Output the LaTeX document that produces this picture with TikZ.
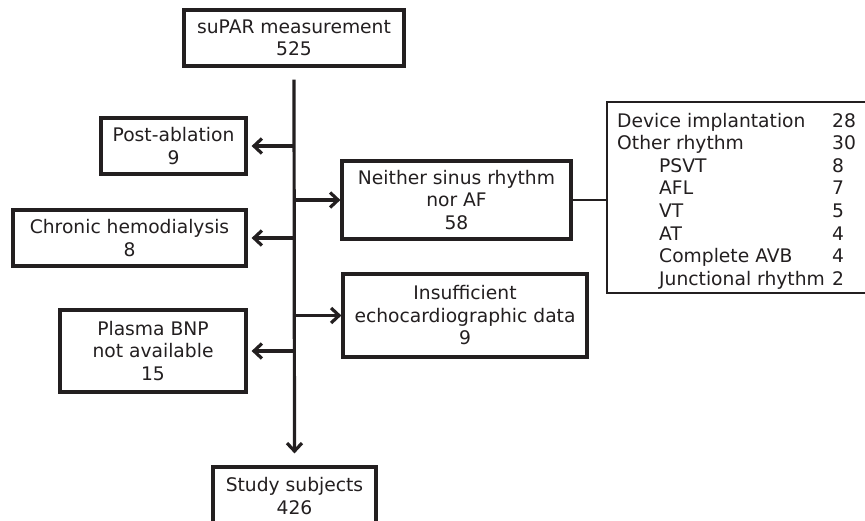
\documentclass[tikz,border=0pt]{standalone}
\usepackage{fontspec}
\setmainfont{DejaVu Sans}
\usetikzlibrary{arrows.meta}
\definecolor{ink}{HTML}{231F20}
\begin{document}
\begin{tikzpicture}[x=1pt,y=-1pt,
  box/.style={draw=ink,line width=3.2pt,text=ink,align=center,inner sep=0pt,
    font=\fontsize{18.7}{22.5}\selectfont},
  arr/.style={draw=ink,line width=3.2pt,-{Straight Barb[length=8pt,width=15pt]}},
  lbl/.style={anchor=base west,inner sep=0pt,text=ink,font=\fontsize{18.7}{22.5}\selectfont}]
\useasboundingbox (0,0) rectangle (865,520);
\fill[white] (0,0) rectangle (865,520);
% boxes
\node[box,minimum width=220pt,minimum height=56pt] (supar) at (294,38) {suPAR measurement\\525};
\node[box,minimum width=145pt,minimum height=56pt] (post) at (173.5,146) {Post-ablation\\9};
\node[box,minimum width=229pt,minimum height=78pt] (neither) at (456.5,200) {Neither sinus rhythm\\nor AF\\58};
\node[box,minimum width=233pt,minimum height=56pt] (chronic) at (129.5,238) {Chronic hemodialysis\\8};
\node[box,minimum width=244pt,minimum height=83pt] (insuff) at (465,315.5) {Insufficient\\echocardiographic data\\9};
\node[box,minimum width=186pt,minimum height=82pt] (plasma) at (153,351) {Plasma BNP\\not available\\15};
\node[box,minimum width=163pt,minimum height=58pt] (study) at (294.5,496) {Study subjects\\426};
% trunk
\coordinate (top) at ([yshift=-12pt]supar.south);
\coordinate (bot) at ([yshift=12pt]study.north);
\draw[arr] (top) -- (bot);
% branches
\draw[arr] (post.east -| top) -- ([xshift=4pt]post.east);
\draw[arr] (chronic.east -| top) -- ([xshift=4pt]chronic.east);
\draw[arr] (plasma.east -| top) -- ([xshift=4pt]plasma.east);
\draw[arr] (neither.west -| top) -- (neither.west);
\draw[arr] (insuff.west -| top) -- (insuff.west);
% detail box
\node[draw=ink,line width=1.6pt,minimum width=268pt,minimum height=191pt,inner sep=0pt] (det) at (741,197.5) {};
\draw[draw=ink,line width=2.2pt] (neither.east) -- (neither.east -| det.west);
\node[lbl] (d1) at (617,127) {Device implantation};
\node[lbl] (d2) at (617,149.6) {Other rhythm};
\node[lbl] (d3) at (659,172.2) {PSVT};
\node[lbl] (d4) at (659,194.8) {AFL};
\node[lbl] (d5) at (659,217.4) {VT};
\node[lbl] (d6) at (659,240) {AT};
\node[lbl] (d7) at (659,262.6) {Complete AVB};
\node[lbl] (d8) at (659,285.2) {Junctional rhythm};
\node[lbl] (n1) at (832,127) {28};
\node[lbl] (n2) at (832,149.6) {30};
\node[lbl] (n3) at (832,172.2) {8};
\node[lbl] (n4) at (832,194.8) {7};
\node[lbl] (n5) at (832,217.4) {5};
\node[lbl] (n6) at (832,240) {4};
\node[lbl] (n7) at (832,262.6) {4};
\node[lbl] (n8) at (832,285.2) {2};
\end{tikzpicture}
\end{document}
